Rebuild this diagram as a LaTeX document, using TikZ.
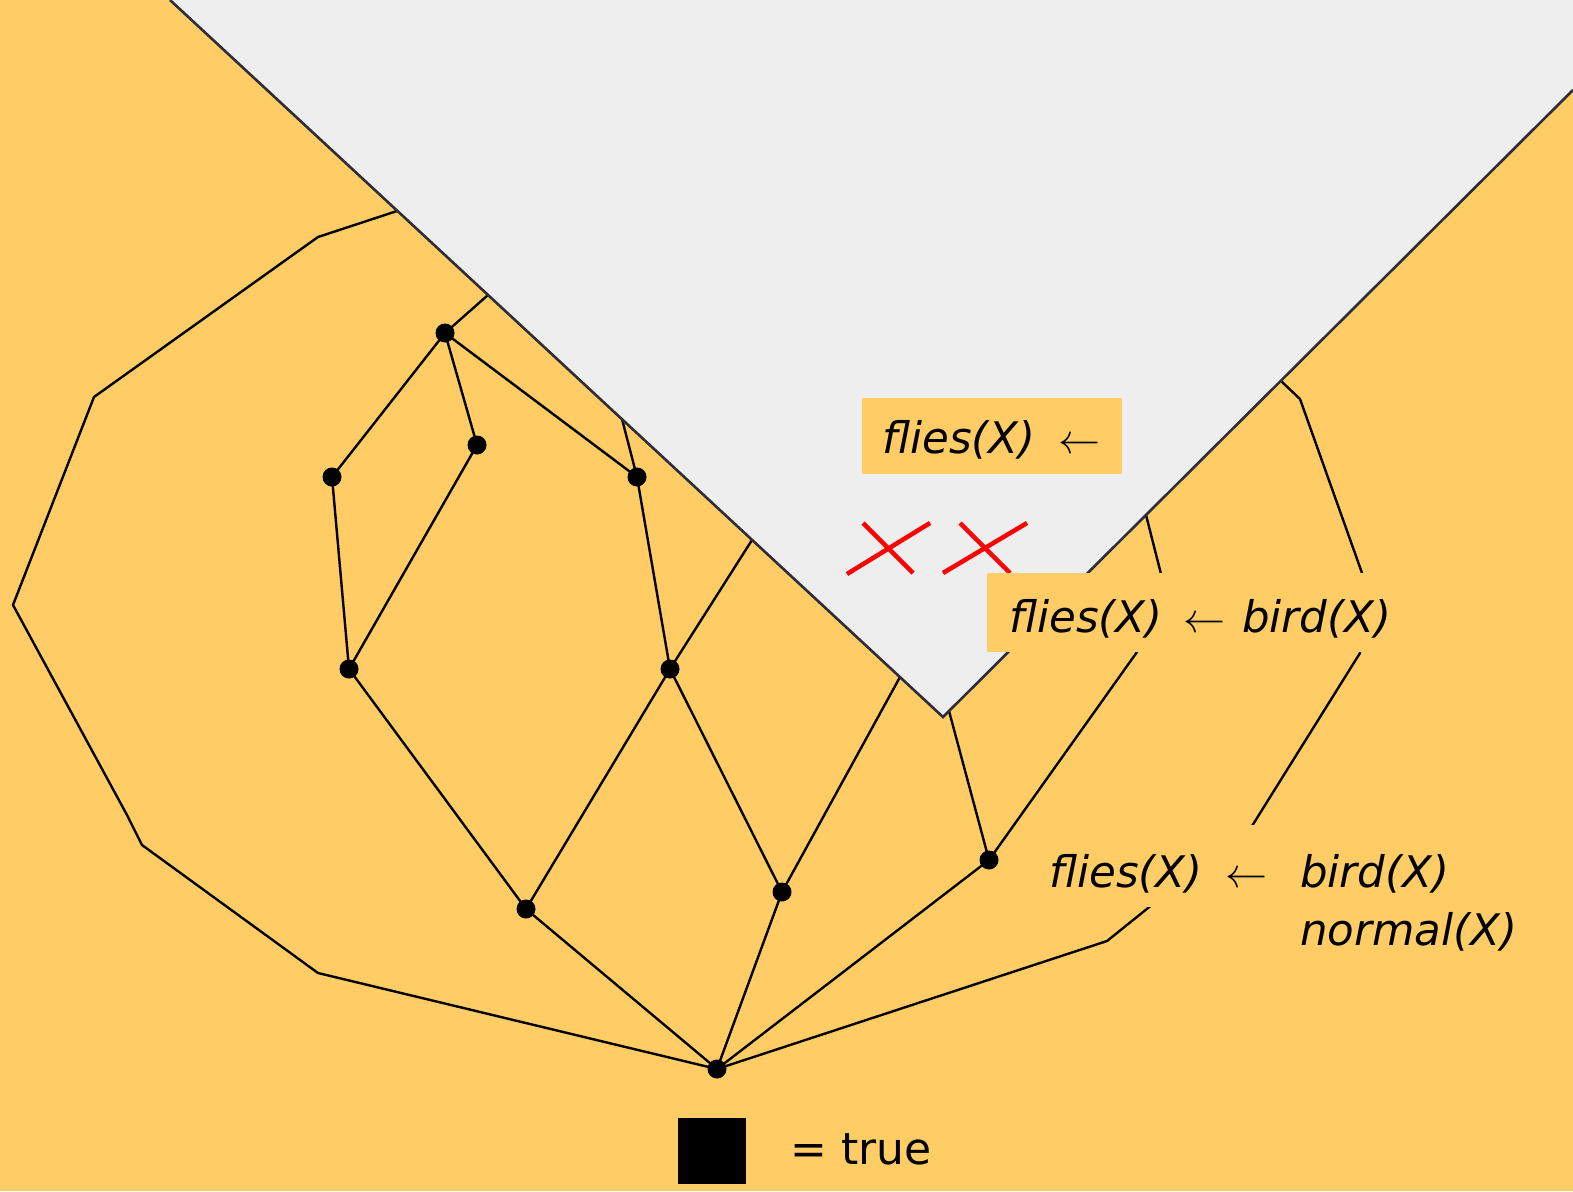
\documentclass[tikz,border=0pt]{standalone}
\usepackage{fontspec}
\setmainfont{DejaVu Sans}
\usepackage{graphicx}
\definecolor{bgorange}{RGB}{255,204,102}
\definecolor{wedgegrey}{RGB}{238,238,238}
\definecolor{rimgrey}{RGB}{45,45,55}
\definecolor{crossred}{RGB}{255,0,0}
\begin{document}
\begin{tikzpicture}[x=1pt,y=-1pt,
  edge/.style={line width=2.4pt, black, line join=round},
  rim/.style={line width=2.6pt, draw=rimgrey, line join=miter},
  dot/.style={circle, fill=black, inner sep=0pt, minimum size=18pt},
  via/.style={coordinate},
  labelbox/.style={fill=bgorange, inner sep=0pt},
  lbl/.style={font=\fontsize{43.5}{52}\selectfont\itshape, inner sep=0pt, anchor=base west},
  arr/.style={inner sep=0pt, anchor=base west},
  cross/.style={line width=4.5pt, crossred},
  legend/.style={font=\fontsize{44}{52}\selectfont, inner sep=0pt, anchor=base west}
]
% background and grey wedge
\useasboundingbox[fill=bgorange] (0,0) rectangle (1573,1191);
\coordinate (wtl) at (170,0);
\coordinate (apex) at (943,717);
\coordinate (wre) at (1573,90);
\fill[wedgegrey] (wtl) -- (apex) -- (wre) -- (1573,0) -- cycle;

% lattice nodes
\node[dot] (A) at (445,333) {};
\node[dot] (B) at (477,445) {};
\node[dot] (C) at (332,477) {};
\node[dot] (D) at (637,477) {};
\node[dot] (E) at (349,669) {};
\node[dot] (F) at (670,669) {};
\node[dot] (G) at (526,909) {};
\node[dot] (H) at (782,892) {};
\node[dot] (I) at (989,860) {};
\node[dot] (T) at (717,1069) {};

% ends on the wedge border
\node[via] (eA) at (488,295) {};
\node[via] (eD) at (622,419) {};
\node[via] (eF) at (752,540) {};
\node[via] (eH) at (900,677) {};
\node[via] (eI) at (949,711) {};
\node[via] (eR) at (1146,515) {};
\node[via] (eL) at (397,211) {};
\node[via] (eRR) at (1281,381) {};

% bends of the long outer chains
\node[via] (l1) at (318,237) {};
\node[via] (l2) at (94,397) {};
\node[via] (l3) at (13,605) {};
\node[via] (l4) at (127,815) {};
\node[via] (l5) at (142,845) {};
\node[via] (l6) at (318,973) {};
\node[via] (r1) at (1300,399) {};
\node[via] (r2) at (1362,573) {};
\node[via] (r3) at (1360,653) {};
\node[via] (r4) at (1252,826) {};
\node[via] (r5) at (1148,908) {};
\node[via] (r6) at (1107,941) {};
\node[via] (m1) at (1161,574) {};
\node[via] (m2) at (1137,652) {};

% connectors
\draw[edge] (A.center) -- (B.center);
\draw[edge] (A.center) -- (C.center);
\draw[edge] (A.center) -- (D.center);
\draw[edge] (A.center) -- (eA);
\draw[edge] (B.center) -- (E.center);
\draw[edge] (C.center) -- (E.center);
\draw[edge] (D.center) -- (F.center);
\draw[edge] (D.center) -- (eD);
\draw[edge] (E.center) -- (G.center);
\draw[edge] (F.center) -- (G.center);
\draw[edge] (F.center) -- (H.center);
\draw[edge] (F.center) -- (eF);
\draw[edge] (G.center) -- (T.center);
\draw[edge] (H.center) -- (T.center);
\draw[edge] (H.center) -- (eH);
\draw[edge] (I.center) -- (T.center);
\draw[edge] (I.center) -- (eI);
\draw[edge] (I.center) -- (m2) -- (m1) -- (eR);
\draw[edge] (eL) -- (l1) -- (l2) -- (l3) -- (l4) -- (l5) -- (l6) -- (T.center);
\draw[edge] (eRR) -- (r1) -- (r2) -- (r3) -- (r4) -- (r5) -- (r6) -- (T.center);

% wedge border
\draw[rim] (wtl) -- (apex) -- (wre);

% red crosses
\draw[cross] (847,574) -- (930,523);
\draw[cross] (863,523) -- (913,573);
\draw[cross] (943,573) -- (1027,523);
\draw[cross] (960,523) -- (1010,573);

% label backgrounds
\node[labelbox, minimum width=260pt, minimum height=76pt] (box1) at (992,436) {};
\node[labelbox, minimum width=415pt, minimum height=79pt] (box2) at (1194.5,612.5) {};
\node[labelbox, minimum width=425pt, minimum height=82pt] (box3) at (1247.5,866) {};

% dots over the lines
\foreach \n in {A,B,C,D,E,F,G,H,I,T} \fill (\n) circle (9.5pt);

% clause texts
\node[lbl] (h1) at (882,453) {flies(X)};
\node[arr] (a1) at (1058,453) {\scalebox{4.2}{$\leftarrow$}};

\node[lbl] (h2) at (1009,632) {flies(X)};
\node[arr] (a2) at (1183,632) {\scalebox{4.2}{$\leftarrow$}};
\node[lbl] (b2) at (1242,632) {bird(X)};

\node[lbl] (h3) at (1049,887) {flies(X)};
\node[arr] (a3) at (1225,887) {\scalebox{4.2}{$\leftarrow$}};
\node[lbl] (b3) at (1300,887) {bird(X)};
\node[lbl] (n3) at (1300,945) {normal(X)};

% legend
\node[fill=black, inner sep=0pt, minimum width=68pt, minimum height=66pt] (key) at (712,1151) {};
\node[legend] (keytext) at (790,1164) {= true};
\end{tikzpicture}
\end{document}
